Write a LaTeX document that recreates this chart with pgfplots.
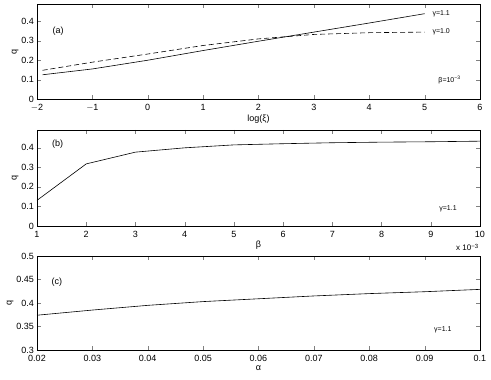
\documentclass[border=0pt]{standalone}
\usepackage{fontspec}
\setmainfont{Liberation Sans}
\usepackage{pgfplots}
\pgfplotsset{compat=1.18}

\tikzset{
  tag/.style={font=\fontsize{9}{10}\selectfont},
  small/.style={font=\fontsize{7}{8}\selectfont},
}
\pgfplotsset{
  panel/.style={
    scale only axis, width=443pt,
    anchor=south west,
    tick align=inside, xtick pos=both, ytick pos=both,
    xticklabel pos=bottom, yticklabel pos=left,
    major tick length=4pt,
    /pgf/number format/assume math mode=true,
    tick label style={font=\fontsize{9}{10}\selectfont},
    xticklabel style={yshift=-1.5pt},
    yticklabel style={xshift=0.5pt},
    label style={font=\fontsize{9}{10}\selectfont},
    axis line style={line width=0.6pt},
    clip=false,
  },
}

\begin{document}
\begin{tikzpicture}
\useasboundingbox (0,0) rectangle (491pt,-380pt);

% (a)
\begin{axis}[panel, at={(37pt,-99pt)}, height=95pt,
  xmin=-2, xmax=6, ymin=0, ymax=0.49,
  xtick={-2,...,6}, xticklabels={$-$2,$-$1,0,1,2,3,4,5,6},
  ytick={0,0.1,0.2,0.3,0.4}, yticklabels={0,0.1,0.2,0.3,0.4},
  xlabel={log(ξ)}, ylabel={q},
  xlabel style={yshift=3pt}, ylabel style={yshift=-4pt}]
  \addplot[black, line width=0.6pt] coordinates {(-1.9,0.125) (-1,0.155) (0,0.2) (1,0.25) (2,0.298) (3,0.345) (4,0.392) (5,0.44)};
  \addplot[black, line width=0.6pt, dash pattern=on 5pt off 3pt] coordinates {(-1.9,0.148) (-1,0.19) (0,0.232) (1,0.276) (2,0.31) (3,0.333) (4,0.342) (5,0.345)};
  \node[tag] at (axis cs:-1.62,0.35) {(a)};
  \node[small] at (axis cs:5.3,0.44) {γ=1.1};
  \node[small] at (axis cs:5.3,0.345) {γ=1.0};
  \node[small] at (axis cs:5.45,0.1) {β=10\textsuperscript{−3}};
\end{axis}

% (b)
\begin{axis}[panel, at={(37pt,-226pt)}, height=96pt,
  xmin=1, xmax=10, ymin=0, ymax=0.49,
  xtick={1,...,10},
  ytick={0,0.1,0.2,0.3,0.4}, yticklabels={0,0.1,0.2,0.3,0.4},
  xlabel={β}, ylabel={q},
  xlabel style={yshift=3pt}, ylabel style={yshift=-4pt}]
  \addplot[black, line width=0.6pt] coordinates {(1,0.131) (2,0.317) (3,0.377) (4,0.399) (5,0.414) (6,0.42) (7,0.425) (8,0.428) (9,0.43) (10,0.433)};
  \node[tag] at (axis cs:1.42,0.417) {(b)};
  \node[small] at (axis cs:9.35,0.088) {γ=1.1};
  \node[font=\fontsize{8}{9}\selectfont, anchor=north east] at (rel axis cs:1.005,-0.15) {x 10\textsuperscript{−3}};
\end{axis}

% (c)
\begin{axis}[panel, at={(37pt,-350pt)}, height=94pt,
  xmin=0.02, xmax=0.1, ymin=0.3, ymax=0.5,
  xtick={0.02,0.03,...,0.1}, xticklabels={0.02,0.03,0.04,0.05,0.06,0.07,0.08,0.09,0.1},
  ytick={0.3,0.35,...,0.5}, yticklabels={0.3,0.35,0.4,0.45,0.5},
  xlabel={α}, ylabel={q},
  xlabel style={yshift=3pt}, ylabel style={yshift=-4pt}]
  \addplot[black, line width=0.6pt] coordinates {(0.02,0.374) (0.03,0.385) (0.04,0.395) (0.05,0.403) (0.06,0.409) (0.07,0.415) (0.08,0.42) (0.09,0.424) (0.1,0.429)};
  \node[tag] at (axis cs:0.0236,0.445) {(c)};
  \node[small] at (axis cs:0.0933,0.342) {γ=1.1};
\end{axis}
\end{tikzpicture}
\end{document}
